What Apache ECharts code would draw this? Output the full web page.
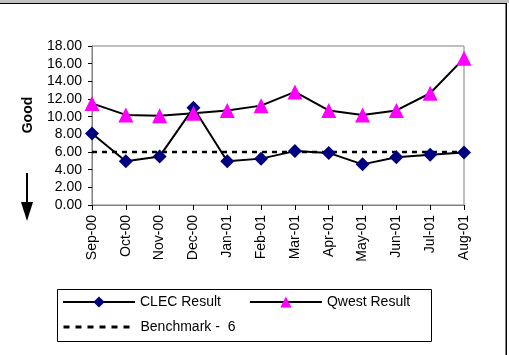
<!DOCTYPE html>
<html>
<head>
<meta charset="utf-8">
<script src="https://cdn.jsdelivr.net/npm/echarts@6/dist/echarts.min.js"></script>
<style>
html, body { margin: 0; padding: 0; background: #fff; }
#main { width: 509px; height: 355px; }
</style>
</head>
<body>
<div id="main"></div>
<script>
// categories / data
var months = ['Sep-00', 'Oct-00', 'Nov-00', 'Dec-00', 'Jan-01', 'Feb-01', 'Mar-01', 'Apr-01', 'May-01', 'Jun-01', 'Jul-01', 'Aug-01'];
var clecResult = [8.1, 4.95, 5.5, 11.0, 4.95, 5.25, 6.1, 5.9, 4.6, 5.4, 5.7, 5.95];
var qwestResult = [11.5, 10.2, 10.1, 10.4, 10.7, 11.25, 12.8, 10.7, 10.2, 10.7, 12.65, 16.6];
var benchmark = [6, 6, 6, 6, 6, 6, 6, 6, 6, 6, 6, 6];

var font = 'Liberation Sans, Arial, sans-serif';
var chart = echarts.init(document.getElementById('main'));

var option = {
    animation: false,
    backgroundColor: '#fff',
    grid: {
        left: 92, right: 45, top: 46, bottom: 150,
        show: true, borderColor: '#808080', borderWidth: 1
    },
    xAxis: {
        type: 'category',
        data: months,
        boundaryGap: false,
        axisLine: { lineStyle: { color: '#808080' } },
        axisTick: { show: true, alignWithLabel: true, length: 5, lineStyle: { color: '#000' } },
        axisLabel: { rotate: 90, color: '#000', fontFamily: font, fontSize: 14, margin: 10, interval: 0 },
        splitLine: { show: false }
    },
    yAxis: {
        type: 'value',
        min: 0, max: 18, interval: 2,
        axisLine: { show: true, lineStyle: { color: '#808080' } },
        axisTick: { show: true, length: 4, lineStyle: { color: '#000' } },
        axisLabel: {
            color: '#000', fontFamily: font, fontSize: 14, margin: 10,
            formatter: function (v) { return v.toFixed(2); }
        },
        splitLine: { show: false }
    },
    legend: [
        {
            data: ['CLEC Result', 'Qwest Result'],
            left: 62, top: 295, padding: 0,
            itemWidth: 72, itemHeight: 14, itemGap: 28,
            textStyle: { color: '#000', fontFamily: font, fontSize: 14 }
        },
        {
            data: [{
                name: 'Benchmark -  6',
                itemStyle: { opacity: 0 },
                lineStyle: { width: 3, type: [6, 6] }
            }],
            left: 62, top: 320, padding: 0,
            itemWidth: 72, itemHeight: 14,
            textStyle: { color: '#000', fontFamily: font, fontSize: 14 }
        }
    ],
    series: [
        {
            name: 'CLEC Result',
            type: 'line',
            data: clecResult,
            symbol: 'diamond',
            symbolSize: 14,
            itemStyle: { color: '#000080' },
            lineStyle: { color: '#000', width: 2 },
            z: 3
        },
        {
            name: 'Qwest Result',
            type: 'line',
            data: qwestResult,
            symbol: 'triangle',
            symbolSize: 15,
            itemStyle: { color: '#ff00ff' },
            lineStyle: { color: '#000', width: 2 },
            z: 4
        },
        {
            name: 'Benchmark -  6',
            type: 'line',
            data: benchmark,
            symbol: 'none',
            itemStyle: { color: '#000' },
            lineStyle: { color: '#000', width: 2.5, type: [5, 5] },
            z: 2
        }
    ],
    graphic: [
        // outer frame
        { type: 'rect', shape: { x: 0, y: 0, width: 509, height: 3 }, style: { fill: '#c0c0c0' }, silent: true },
        { type: 'line', shape: { x1: 0, y1: 3.5, x2: 507, y2: 3.5 }, style: { stroke: '#000', lineWidth: 1 }, silent: true },
        { type: 'line', shape: { x1: 506.5, y1: 3, x2: 506.5, y2: 355 }, style: { stroke: '#000', lineWidth: 1 }, silent: true },
        { type: 'line', shape: { x1: 505.5, y1: 4, x2: 505.5, y2: 355 }, style: { stroke: '#808080', lineWidth: 1 }, silent: true },
        // legend box
        { type: 'rect', shape: { x: 57.5, y: 289.5, width: 374, height: 52 }, style: { fill: null, stroke: '#000', lineWidth: 1 }, silent: true },
        // axis title
        {
            type: 'text', x: 28, y: 115, rotation: Math.PI / 2,
            style: { text: 'Good', fill: '#000', font: 'bold 14px ' + font, align: 'center', verticalAlign: 'middle' }
        },
        // arrow
        { type: 'line', shape: { x1: 27, y1: 173, x2: 27, y2: 205 }, style: { stroke: '#000', lineWidth: 2 }, silent: true },
        { type: 'polygon', shape: { points: [[21, 202], [33, 202], [27, 221]] }, style: { fill: '#000' }, silent: true }
    ]
};
chart.setOption(option);
</script>
</body>
</html>
